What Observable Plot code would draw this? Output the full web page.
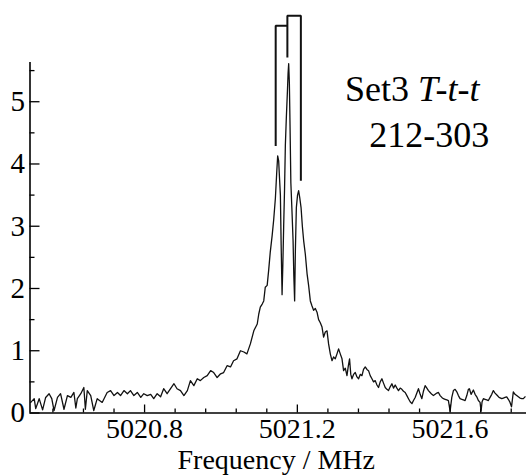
<!DOCTYPE html>
<html><head><meta charset="utf-8">
<script src="https://cdn.jsdelivr.net/npm/d3@7"></script>
<script src="https://cdn.jsdelivr.net/npm/@observablehq/plot@0.6"></script>
<style>
body{margin:0;background:#fff}
#chart svg{display:block}
#chart svg, #chart svg text{font-family:"Liberation Serif","Times New Roman",Times,serif !important;}
</style>
</head><body><div id="chart"></div>
<script>
// Spectrum trace: frequency (MHz) and intensity (arb. units)
const freq = [
5020.502,5020.511,5020.515,5020.524,5020.533,5020.541,5020.550,5020.557,5020.563,5020.572,
5020.580,5020.589,5020.598,5020.607,5020.615,5020.620,5020.624,5020.633,5020.641,5020.645,
5020.650,5020.659,5020.667,5020.676,5020.689,5020.702,5020.711,5020.720,5020.729,5020.737,
5020.746,5020.755,5020.763,5020.772,5020.781,5020.790,5020.798,5020.807,5020.816,5020.824,
5020.833,5020.842,5020.850,5020.859,5020.868,5020.877,5020.885,5020.894,5020.903,5020.912,
5020.920,5020.929,5020.938,5020.946,5020.955,5020.964,5020.973,5020.981,5020.990,5020.999,
5021.007,5021.016,5021.025,5021.033,5021.042,5021.051,5021.060,5021.068,5021.077,5021.086,
5021.095,5021.099,5021.103,5021.108,5021.112,5021.116,5021.121,5021.125,5021.129,5021.134,
5021.138,5021.1425,5021.1459,5021.1485,5021.1511,5021.1535,5021.1556,5021.1576,5021.1600,5021.1621,
5021.1642,5021.1665,5021.1686,5021.1712,5021.1739,5021.1757,5021.1773,5021.1791,5021.1809,5021.1830,
5021.1856,5021.1888,5021.1908,5021.1929,5021.1948,5021.1974,5021.2005,5021.2034,5021.2065,5021.2097,
5021.2131,5021.2165,5021.2209,5021.2254,5021.2295,5021.2340,5021.2384,5021.2426,5021.2471,5021.2515,
5021.2557,5021.2601,5021.2646,5021.2688,5021.2732,5021.2777,5021.2818,5021.2863,5021.2907,5021.2949,
5021.2993,5021.3038,5021.3080,5021.3124,5021.3169,5021.3211,5021.3255,5021.3299,5021.3333,5021.3367,
5021.3399,5021.3430,5021.3472,5021.3516,5021.3561,5021.3603,5021.3647,5021.3692,5021.3733,5021.3778,
5021.3822,5021.3864,5021.3908,5021.3953,5021.3995,5021.4039,5021.4084,5021.4125,5021.4170,5021.4214,
5021.4256,5021.4301,5021.4345,5021.4387,5021.4431,5021.4476,5021.4518,5021.4562,5021.4607,5021.4648,
5021.4693,5021.4737,5021.4779,5021.4824,5021.4868,5021.4910,5021.4954,5021.5000,5021.5041,5021.5085,
5021.5129,5021.5171,5021.5216,5021.5260,5021.5302,5021.5346,5021.5391,5021.5433,5021.5477,5021.5522,
5021.5563,5021.5608,5021.5652,5021.5694,5021.5739,5021.5783,5021.5825,5021.5869,5021.5914,5021.5955,
5021.6000,5021.6044,5021.6086,5021.6131,5021.6175,5021.6217,5021.6261,5021.6306,5021.6348,5021.6392,
5021.6437,5021.6478,5021.6505,5021.6549,5021.6609,5021.6654,5021.6698,5021.6740,5021.6784,5021.6810,
5021.6837,5021.6871,5021.6915,5021.6960,5021.7001,5021.7046,5021.7090,5021.7132,5021.7176,5021.7237,
5021.7281,5021.7352,5021.7393,5021.7438,5021.7482,5021.7524,5021.7569,5021.7608,5021.7655,5021.7699,
5021.7744,5021.7786,5021.7830,5021.7875,5021.7917,5021.7961
];
const intensity = [
0.17,0.23,0.07,0.23,0.05,0.25,0.31,0.23,0.04,0.25,
0.31,0.06,0.28,0.25,0.33,0.08,0.23,0.31,0.41,0.06,
0.36,0.28,0.04,0.23,0.17,0.33,0.36,0.28,0.33,0.28,
0.36,0.31,0.36,0.28,0.33,0.25,0.31,0.28,0.30,0.23,
0.31,0.26,0.39,0.31,0.39,0.47,0.39,0.36,0.28,0.36,
0.52,0.44,0.55,0.52,0.57,0.60,0.68,0.65,0.57,0.63,
0.65,0.76,0.74,0.84,0.87,1.00,0.98,0.95,1.11,1.32,
1.43,1.59,1.70,1.75,1.80,2.02,2.05,2.30,2.58,2.85,
3.10,3.45,3.85,4.13,4.05,3.75,3.50,2.70,1.90,2.40,
3.00,3.60,4.30,4.75,5.15,5.45,5.61,5.30,4.60,3.70,
3.30,2.77,2.20,1.80,2.60,3.30,3.50,3.57,3.45,3.30,
3.00,2.77,2.55,2.24,2.05,1.80,1.72,1.65,1.68,1.62,
1.50,1.45,1.38,1.22,1.30,1.32,1.11,0.95,0.84,0.90,
0.87,0.95,1.03,0.95,0.87,0.68,0.72,0.60,0.75,0.87,
0.62,0.55,0.62,0.65,0.58,0.55,0.62,0.60,0.70,0.74,
0.70,0.68,0.60,0.55,0.50,0.52,0.45,0.41,0.50,0.55,
0.48,0.41,0.38,0.36,0.42,0.47,0.40,0.45,0.40,0.36,
0.40,0.38,0.35,0.33,0.28,0.23,0.18,0.15,0.20,0.25,
0.32,0.39,0.30,0.23,0.35,0.44,0.40,0.36,0.33,0.30,
0.28,0.30,0.32,0.33,0.28,0.25,0.23,0.22,0.21,0.20,
0.03,0.25,0.36,0.38,0.34,0.28,0.23,0.22,0.21,0.20,
0.28,0.38,0.39,0.30,0.37,0.30,0.26,0.20,0.17,0.03,
0.18,0.23,0.22,0.21,0.20,0.25,0.30,0.36,0.32,0.28,
0.25,0.23,0.24,0.25,0.26,0.22,0.17,0.10,0.34,0.30,
0.28,0.26,0.24,0.23,0.23,0.26
];

// Axis ticks
const yLabelTicks = [0, 1, 2, 3, 4, 5];
const yMinorTicks = [0.5, 1.5, 2.5, 3.5, 4.5, 5.5];
const xLabelTicks = [5020.8, 5021.2, 5021.6];
const xMinorTicks = [5020.56, 5020.64, 5020.72, 5020.88, 5020.96, 5021.04, 5021.12,
                     5021.28, 5021.36, 5021.44, 5021.52, 5021.68, 5021.76];

// Stick / doublet bracket lines above the peaks (frequency, height, group)
const bracketFreq = [5021.1433, 5021.1433, 5021.1739, 5021.1739, 5021.1739, 5021.2092, 5021.2092];
const bracketY    = [4.29, 6.22, 6.22, 5.71, 6.38, 6.38, 3.73];
const bracketGrp  = ["a", "a", "a", "b", "b", "b", "b"];

// Annotation
const annLines = ["Set3 T-t-t", "212-303"];
const annFreq  = [5021.325, 5021.388];
const annY     = [5.20, 4.45];

const xLabel = "Frequency / MHz";

const trace = freq.map((f, i) => ({f, v: intensity[i]}));
const brackets = bracketFreq.map((f, i) => ({f, v: bracketY[i], g: bracketGrp[i]}));
const ann = annLines.map((t, i) => ({t, f: annFreq[i], v: annY[i]}));

const W = 526, H = 475, mL = 29.5, mR = 0, mT = 62, mB = 62.5;
const frameW = W - mL - mR, frameH = H - mT - mB;
const serif = "Liberation Serif";

const chart = Plot.plot({
  width: W, height: H,
  marginLeft: mL, marginRight: mR, marginTop: mT, marginBottom: mB,
  x: {domain: [5020.5, 5021.8]},
  y: {domain: [0, 5.63]},
  style: {fontFamily: serif, background: "#fff", color: "#000", overflow: "visible"},
  marks: [
    Plot.line(trace, {x: "f", y: "v", stroke: "#111", strokeWidth: 1.3}),
    Plot.line(brackets, {x: "f", y: "v", z: "g", stroke: "#111", strokeWidth: 2, strokeLinejoin: "miter", strokeLinecap: "butt"}),
    // axis lines
    Plot.ruleX([5020.5], {stroke: "#000", strokeWidth: 1.6}),
    Plot.ruleY([0], {stroke: "#000", strokeWidth: 1.6}),
    // inward ticks
    Plot.tickY(yLabelTicks, {y: d => d, insetRight: frameW - 10, stroke: "#000", strokeWidth: 1.3}),
    Plot.tickY(yMinorTicks, {y: d => d, insetRight: frameW - 5, stroke: "#000", strokeWidth: 1.3}),
    Plot.tickX(xLabelTicks, {x: d => d, insetTop: frameH - 8, stroke: "#000", strokeWidth: 1.3}),
    Plot.tickX(xMinorTicks, {x: d => d, insetTop: frameH - 4, stroke: "#000", strokeWidth: 1.3}),
    // tick labels
    Plot.axisY(yLabelTicks, {anchor: "left", tickSize: 0, tickPadding: 5, fontSize: 29, fontFamily: serif, tickFormat: d => String(d), label: null}),
    Plot.axisX(xLabelTicks, {anchor: "bottom", tickSize: 0, tickPadding: 5, fontSize: 28, fontFamily: serif, tickFormat: d => d.toFixed(1), label: null}),
    Plot.text([xLabel], {frameAnchor: "bottom", lineAnchor: "top", dy: 36.4, dx: -2, fontSize: 28, fontFamily: serif, fill: "#000"}),
    // annotation
    Plot.text(ann, {x: "f", y: "v", text: "t", textAnchor: "start", lineAnchor: "middle", fontSize: 36, fontFamily: serif, fill: "#000"})
  ]
});

chart.querySelectorAll("text").forEach(el => {
  if (el.textContent === "Set3 T-t-t") {
    el.textContent = "Set3 ";
    const ts = document.createElementNS("http://www.w3.org/2000/svg", "tspan");
    ts.setAttribute("font-style", "italic");
    ts.textContent = "T-t-t";
    el.appendChild(ts);
  }
});

document.getElementById("chart").appendChild(chart);
</script>
</body></html>
